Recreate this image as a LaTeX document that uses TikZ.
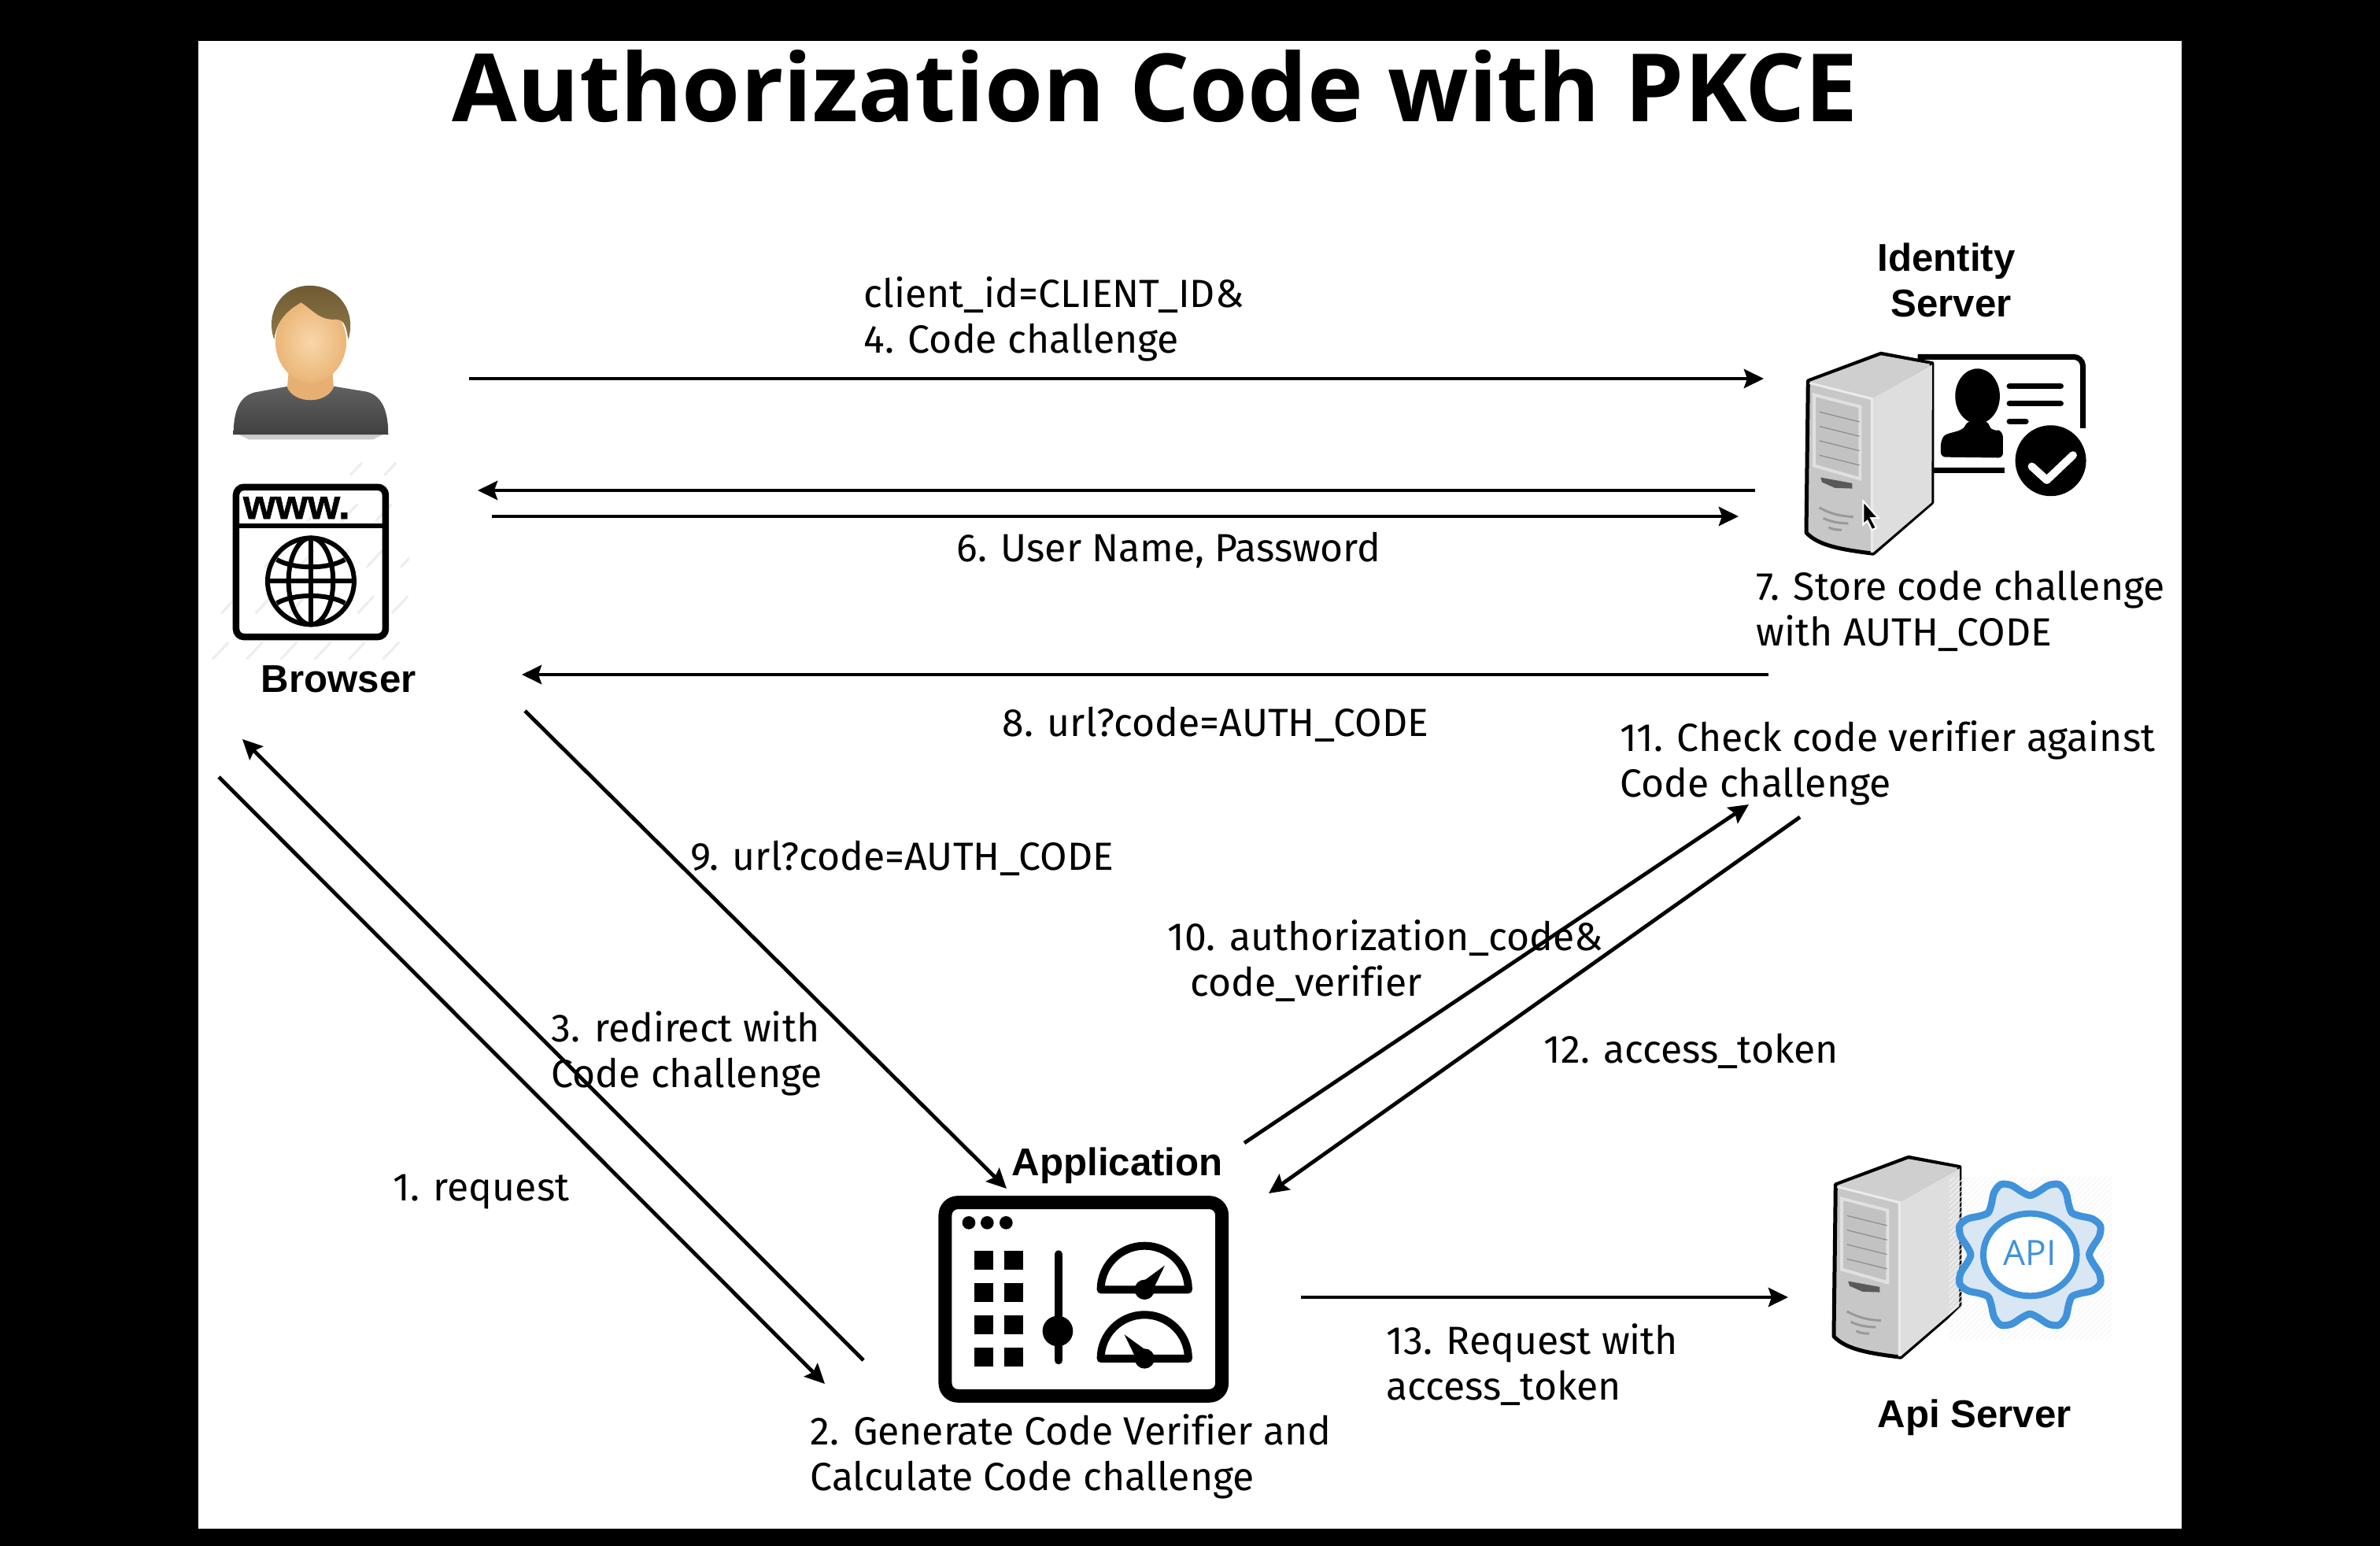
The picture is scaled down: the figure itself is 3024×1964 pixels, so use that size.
\documentclass[tikz,border=0pt]{standalone}
\usepackage{fontspec}
\setmainfont[Ligatures=NoCommon]{Fira Sans}
\newfontfamily\titlefont{Open Sans}
\newfontfamily\headfont{Liberation Sans}
\usetikzlibrary{arrows.meta}
\definecolor{apiblue}{HTML}{4092DA}
\definecolor{apifill}{HTML}{D9E7F5}
\definecolor{hairtop}{HTML}{6F5A34}
\definecolor{hairlow}{HTML}{8E7846}
\definecolor{facein}{HTML}{F8D7A9}
\definecolor{faceout}{HTML}{EBB678}
\tikzset{
  pics/servertower/.style={code={
    \begin{scope}[x=0.03333mm,y=-0.03333mm]
    \draw [black,line width=0.5mm,line join=round,fill=black!22] (112,582) -- (390,478) -- (585,515) -- (585,1045) -- (360,1240) .. controls (240,1225) and (150,1210) .. (105,1160) -- cycle;
    \fill [black!13] (355,650) -- (585,520) -- (583,1045) -- (360,1236) -- cycle;
    \fill [black!19] (118,585) -- (390,484) -- (578,518) -- (355,650) -- cycle;
    \draw [black!8,line width=0.3mm] (118,590) -- (355,650) -- (355,1236);
    \draw [black!12,line width=0.4mm,fill=black!24] (135,635) -- (310,680) -- (310,955) -- (135,905) -- cycle;
    \foreach \k in {0,1,2,3} {
      \draw [black!45,line width=0.12mm] (155,{700+\k*55}) -- (308,{738+\k*55});
    }
    \fill [black!65] (160,950) -- (280,972) -- (280,992) -- (215,990) -- (165,968) -- cycle;
    \draw [black!40,line width=0.3mm] (155,1065) .. controls (200,1090) and (240,1098) .. (285,1100);
    \draw [black!40,line width=0.3mm] (170,1105) .. controls (200,1120) and (235,1125) .. (265,1125);
    \draw [black!40,line width=0.3mm] (190,1140) .. controls (205,1148) and (225,1150) .. (240,1150);
    \end{scope}
  }},
  pics/gaugedial/.style={code={
    \draw [black,line width=1mm,line join=round] (-167,0) arc (180:360:167) -- cycle;
    \fill [black] (0,0) circle (38);
    \fill [black] (#1:120) -- ({#1+90}:30) -- ({#1-90}:30) -- cycle;
  }}
}
\begin{document}
\begin{tikzpicture}[x=0.1mm,y=-0.1mm]
\tikzstyle{flowlabel}=[inner sep=0pt,anchor=base west,align=left,font=\fontsize{14.2}{16.5}\selectfont]
\tikzstyle{headlabel}=[inner sep=0pt,anchor=base west,align=left,font=\headfont\bfseries\fontsize{14}{16.5}\selectfont]
\tikzstyle{flowarrow}=[black,line width=0.48mm,-{Stealth[length=2.5mm,width=2.4mm,inset=0.4mm]}]
\useasboundingbox (0,0) rectangle (3024,1964);
\fill [black] (0,0) rectangle (3024,1964);
\fill [white] (252,52) rectangle (2772,1942);
\node [inner sep=0pt,anchor=base west,font=\titlefont\bfseries\fontsize{34.1}{36}\selectfont] (titletext) at (574,154) {Authorization Code with PKCE};
% person
\begin{scope}[shift={(260,320)},x=0.03333mm,y=-0.03571mm]
\fill [black!20] (130,650) -- (680,650) -- (640,668) -- (170,668) -- cycle;
\shade [top color=black!62,bottom color=black!75] (110,650) .. controls (110,570) and (130,515) .. (190,500) -- (320,478) -- (490,478) -- (620,498) .. controls (680,515) and (700,570) .. (700,650) -- cycle;
\fill [faceout!90!brown] (320,430) -- (315,482) .. controls (340,540) and (460,545) .. (492,482) -- (488,430) -- cycle;
\shade [inner color=facein,outer color=faceout] (405,320) ellipse (135 and 145);
\shade [top color=hairtop,bottom color=hairlow] (265,312) .. controls (230,220) and (290,120) .. (400,120) .. controls (510,120) and (580,210) .. (548,312) .. controls (540,270) and (535,240) .. (500,240) .. controls (440,245) and (410,205) .. (368,180) .. controls (320,205) and (275,240) .. (265,312) -- cycle;
\end{scope}
% browser
\begin{scope}[shift={(260,320)},x=0.03333mm,y=-0.03571mm]
\begin{scope}
\clip (25,750) rectangle (780,1450);
\foreach \k in {0,...,9} {
  \draw [black!7,line width=0.3mm,dash pattern=on 3mm off 5mm] ({\k*130-100},1450) -- ({\k*130+600},750);
}
\end{scope}
\draw [black,line width=0.85mm,rounded corners=1mm] (120,837) rectangle (690,1370);
\draw [black,line width=0.55mm] (120,975) -- (690,975);
\node [inner sep=0pt,anchor=base west,font=\headfont\bfseries\fontsize{15}{16}\selectfont\addfontfeature{FakeBold=1.2}] (wwwtext) at (145,950) {www.};
\draw [black,line width=0.6mm] (405,1172) ellipse (165 and 154);
\draw [black,line width=0.6mm] (405,1172) ellipse (85 and 154);
\draw [black,line width=0.6mm] (405,1018) -- (405,1326);
\draw [black,line width=0.6mm] (240,1172) -- (570,1172);
\draw [black,line width=0.6mm] (275,1095) .. controls (340,1130) and (470,1130) .. (535,1095);
\draw [black,line width=0.6mm] (275,1250) .. controls (340,1215) and (470,1215) .. (535,1250);
\end{scope}
\node [headlabel] (browserlabel) at (331,879) {Browser};
% identity server
\begin{scope}[shift={(2260,290)},x=0.03333mm,y=-0.03333mm]
\draw [black,line width=0.7mm,rounded corners=1.2mm] (530,490) -- (1160,490) -- (1160,762);
\draw [black,line width=0.7mm] (560,922) -- (860,922);
\fill [black] (758,640) ellipse (85 and 105);
\fill [black,rounded corners=0.6mm] (618,872) -- (618,810) .. controls (640,775) and (700,780) .. (718,735) -- (798,735) .. controls (810,775) and (840,770) .. (855,778) -- (855,875) -- cycle;
\draw [black,line width=0.75mm,line cap=round] (880,602) -- (1075,602);
\draw [black,line width=0.75mm,line cap=round] (880,668) -- (1075,668);
\draw [black,line width=0.75mm,line cap=round] (880,736) -- (942,736);
\fill [black] (1037,886) circle (135);
\draw [white,line width=1mm,line cap=round,line join=round] (965,908) -- (1022,960) -- (1122,865);
\end{scope}
\pic at (2260,290) {servertower};
\begin{scope}[shift={(2260,290)},x=0.03333mm,y=-0.03333mm]
\fill [black,draw=white,line width=0.2mm] (322,1040) -- (380,1105) -- (352,1105) -- (372,1142) -- (355,1150) -- (338,1115) -- (322,1130) -- cycle;
\end{scope}
\node [headlabel] (identitylabel) at (2385,402) {Identity\\\hspace*{4.8pt}Server};
% application
\node [headlabel] (applabel) at (1285,1493) {Application};
\begin{scope}[shift={(1160,1500)},x=0.03333mm,y=-0.03333mm]
\draw [black,line width=1.7mm,rounded corners=1.6mm] (123,83) rectangle (1178,820);
\foreach \k in {213,283,355} {
  \fill [black] (\k,160) circle (25);
}
\foreach \k in {233,347} {
  \foreach \m in {267,390,513,635} {
    \fill [black] (\k,\m) rectangle ({\k+74},{\m+73});
  }
}
\draw [black,line width=1mm,line cap=round] (555,280) -- (555,685);
\fill [black] (552,573) circle (58);
\pic at (883,415) {gaugedial=-50};
\pic at (883,678) {gaugedial=-130};
\end{scope}
% api server
\pic at (2295,1311) {servertower};
\begin{scope}[shift={(2300,1440)},x=0.03333mm,y=-0.03333mm]
\begin{scope}
\clip (530,165) rectangle (1150,785);
\foreach \k in {0,...,62} {
  \draw [black!4,line width=0.1mm] ({\k*20-90},785) -- ({\k*20+530},165);
}
\end{scope}
\draw [apiblue,line width=0.9mm,fill=apifill,smooth cycle] plot [domain=0:352.5,samples=48] ({838+(258+32*cos(8*(\x-22.5)))*cos(\x)},{462+(258+32*cos(8*(\x-22.5)))*sin(\x)});
\draw [apiblue,line width=0.8mm,fill=white] (838,462) ellipse (178 and 157);
\node [inner sep=0pt,text=apiblue,font=\titlefont\fontsize{12.6}{14}\selectfont] (apitext) at (838,456) {API};
\end{scope}
\node [headlabel] (apilabel) at (2385,1813) {Api Server};
% flow
\coordinate (authreq) at (596,481);
\coordinate (authreqend) at (2241,481);
\coordinate (loginask) at (2230,623);
\coordinate (loginaskend) at (607,623);
\coordinate (loginsend) at (625,656);
\coordinate (loginsendend) at (2209,656);
\coordinate (codeback) at (2247,857);
\coordinate (codebackend) at (663,857);
\coordinate (codeapp) at (667,903);
\coordinate (codeappend) at (1279,1510);
\coordinate (tokenreq) at (1581,1452);
\coordinate (tokenreqend) at (2222,1022);
\coordinate (tokenback) at (2287,1038);
\coordinate (tokenbackend) at (1612,1516);
\coordinate (apicall) at (1653,1648);
\coordinate (apicallend) at (2272,1648);
\coordinate (firstreq) at (278,987);
\coordinate (firstreqend) at (1048,1758);
\coordinate (redirect) at (1097,1728);
\coordinate (redirectend) at (308,939);
\draw [flowarrow] (authreq) -- (authreqend);
\draw [flowarrow] (loginask) -- (loginaskend);
\draw [flowarrow] (loginsend) -- (loginsendend);
\draw [flowarrow] (codeback) -- (codebackend);
\draw [flowarrow] (codeapp) -- (codeappend);
\draw [flowarrow] (tokenreq) -- (tokenreqend);
\draw [flowarrow] (tokenback) -- (tokenbackend);
\draw [flowarrow] (apicall) -- (apicallend);
\draw [flowarrow] (firstreq) -- (firstreqend);
\draw [flowarrow] (redirect) -- (redirectend);
\node [flowlabel] (clientlabel) at (1097,448) {client\_id=CLIENT\_ID\&\\4. Code challenge};
\node [flowlabel] (userlabel) at (1215,713) {6. User Name, Password};
\node [flowlabel] (storelabel) at (2231,820) {7. Store code challenge\\with AUTH\_CODE};
\node [flowlabel] (urllabel) at (1273,935) {8. url?code=AUTH\_CODE};
\node [flowlabel] (checklabel) at (2058,1012) {11. Check code verifier against\\Code challenge};
\node [flowlabel] (urlapplabel) at (877,1105) {9. url?code=AUTH\_CODE};
\node [flowlabel] (verifierlabel) at (1483,1265) {10. authorization\_code\&\\\hspace*{8.2pt}code\_verifier};
\node [flowlabel] (redirectlabel) at (700,1381) {3. redirect with\\Code challenge};
\node [flowlabel] (tokenlabel) at (1961,1350) {12. access\_token};
\node [flowlabel] (requestlabel) at (499,1525) {1. request};
\node [flowlabel] (apicalllabel) at (1761,1778) {13. Request with\\access\_token};
\node [flowlabel] (generatelabel) at (1029,1893) {2. Generate Code Verifier and\\Calculate Code challenge};
\end{tikzpicture}
\end{document}
